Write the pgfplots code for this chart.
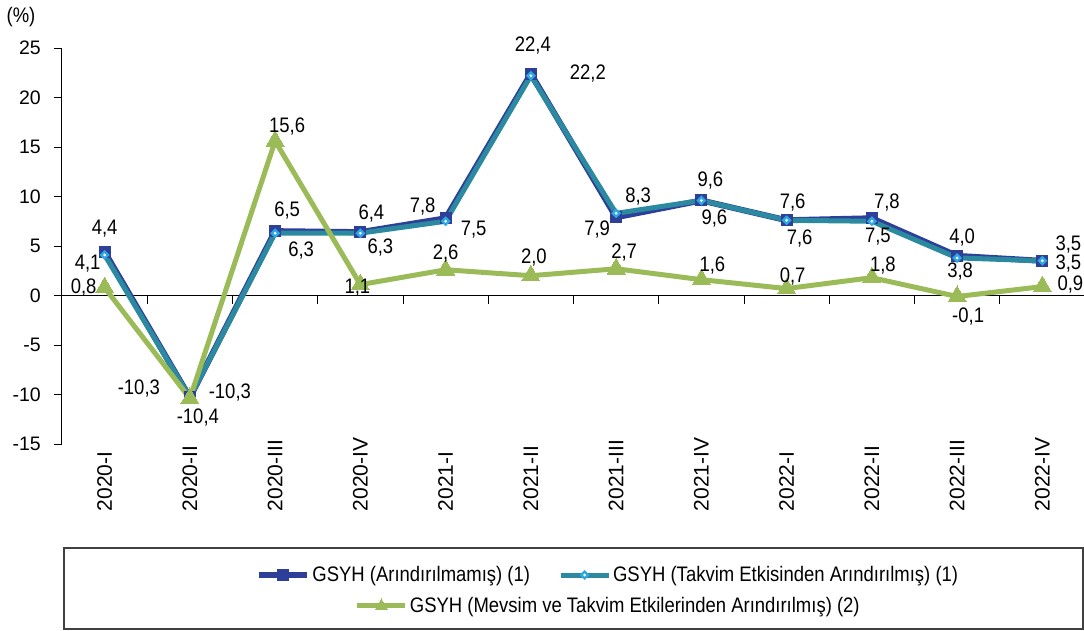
\documentclass[border=0pt]{standalone}
\usepackage{pgfplots}
\pgfplotsset{compat=1.18}
\usepackage{pgfplotstable}
\usepackage{fontspec}
\setmainfont{Liberation Sans}[FakeStretch=0.88]
\newfontfamily\wfont{Liberation Sans}

\definecolor{cblue}{HTML}{2E3F9A}
\definecolor{cteal}{HTML}{2B8AA0}
\definecolor{ccyan}{HTML}{2EA8E0}
\definecolor{cgreen}{HTML}{9BBB59}

\pgfdeclareplotmark{cdiam}{%
  \pgfsetfillcolor{ccyan}%
  \pgfpathmoveto{\pgfqpoint{0pt}{\pgfplotmarksize}}%
  \pgfpathlineto{\pgfqpoint{\pgfplotmarksize}{0pt}}%
  \pgfpathlineto{\pgfqpoint{0pt}{-\pgfplotmarksize}}%
  \pgfpathlineto{\pgfqpoint{-\pgfplotmarksize}{0pt}}%
  \pgfpathclose\pgfusepath{fill}%
  \pgfsetfillcolor{white}%
  \pgfpathcircle{\pgfpointorigin}{0.3\pgfplotmarksize}\pgfusepath{fill}}

\pgfplotstableread{
x y dx dy lab
0 4.4 0 23 4,4
1 -10.3 -51 9 -10,3
2 6.5 12 21 6,5
3 6.4 11 19 6,4
4 7.8 -23 12 7,8
5 22.4 2 28 22,4
6 7.9 -19 -12 7,9
7 9.6 9 20 9,6
8 7.6 6 18 7,6
9 7.8 15 16 7,8
10 4.0 5 18 4,0
11 3.5 26 16 3,5
}\tblblue

\pgfplotstableread{
x y dx dy lab
0 4.1 -17 -9 4,1
1 -10.3 40 5 -10,3
2 6.3 26 -17 6,3
3 6.3 20 -14 6,3
4 7.5 28 -8 7,5
5 22.2 57 2 22,2
6 8.3 22 17 8,3
7 9.6 13 -18 9,6
8 7.6 13 -18 7,6
9 7.5 6 -15 7,5
10 3.8 3 -14 3,8
11 3.5 26 -3 3,5
}\tblteal

\pgfplotstableread{
x y dx dy lab
0 0.8 -21 0 0,8
1 -10.4 8 -19 -10,4
2 15.6 12 15 15,6
3 1.1 -3 -3 1,1
4 2.6 0 16 2,6
5 2.0 3 18 2,0
6 2.7 8 16 2,7
7 1.6 11 14 1,6
8 0.7 6 12 0,7
9 1.8 11 12 1,8
10 -0.1 11 -20 -0,1
11 0.9 28 2 0,9
}\tblgreen

\pgfplotsset{
  lbl/.style={
    nodes near coords,
    point meta=explicit symbolic,
    visualization depends on={\thisrow{dx}\as\dx},
    visualization depends on={\thisrow{dy}\as\dy},
    every node near coord/.append style={anchor=center, xshift=\dx pt, yshift=\dy pt, text=black, inner sep=0pt},
  },
  legend image code/.code={%
    \draw[mark repeat=2,mark phase=2,#1] plot coordinates {(0pt,0pt) (24pt,0pt) (48pt,0pt)};},
}

\begin{document}
\fontsize{21}{24}\selectfont
\begin{tikzpicture}
\begin{axis}[
  scale only axis, width=1023pt, height=396pt,
  xmin=-0.5, xmax=11.5, ymin=-15, ymax=25,
  axis x line*=middle, axis y line*=left,
  axis line style={-, black, line width=1pt},
  ytick={-15,-10,...,25},
  xtick={0.5,1.5,...,10.5}, xticklabels={},
  tick align=outside, major tick length=8pt,
  tick style={black, line width=1pt},
  hide obscured x ticks=false, hide obscured y ticks=false,
  /pgf/number format/assume math mode=true,
  yticklabel style={xshift=-6pt, font=\wfont\fontsize{19.5}{22}\selectfont},
  extra x ticks={0,...,11},
  extra x tick labels={2020-I,2020-II,2020-III,2020-IV,2021-I,2021-II,2021-III,2021-IV,2022-I,2022-II,2022-III,2022-IV},
  extra x tick style={major tick length=0pt, tick style={draw=none},
    xticklabel style={rotate=90, anchor=west, font=\wfont\fontsize{21}{24}\selectfont}, xticklabel shift=223pt},
  clip=false,
  legend columns=2,
  legend style={draw=none, fill=none, at={(0.534,-0.331)}, anchor=center,
    /tikz/every even column/.append style={column sep=26pt},
    nodes={inner sep=2pt}},
]
\addplot[cblue, line width=6pt, line join=round, mark=square*, mark size=5.5pt, mark options={fill=cblue, draw=cblue, line width=0pt}, lbl] table[x=x, y=y, meta=lab] {\tblblue};
\addlegendentry{GSYH (Arındırılmamış) (1)}
\addplot[cteal, line width=5pt, line join=round, mark=cdiam, mark size=5pt, lbl] table[x=x, y=y, meta=lab] {\tblteal};
\addlegendentry{GSYH (Takvim Etkisinden Arındırılmış) (1)}
\addplot[cgreen, line width=5pt, line join=round, mark=triangle*, mark size=10.5pt, mark options={fill=cgreen, draw=cgreen, line width=0pt}, lbl, forget plot] table[x=x, y=y, meta=lab] {\tblgreen};
\end{axis}
\begin{axis}[
  scale only axis, width=1023pt, height=396pt,
  xmin=0, xmax=1, ymin=0, ymax=1, hide axis,
  legend style={draw=none, fill=none, at={(0.534,-0.409)}, anchor=center, nodes={inner sep=2pt}},
]
\addlegendimage{cgreen, line width=5pt, mark=triangle*, mark size=7pt, mark options={fill=cgreen, draw=cgreen, line width=0pt}}
\addlegendentry{GSYH (Mevsim ve Takvim Etkilerinden Arındırılmış) (2)}
\end{axis}
\node at (-41pt,427pt) {(\%)};
\draw[black!75, line width=1.5pt] (2pt,-104pt) rectangle (1021pt,-185pt);
\pgfresetboundingbox
\path[use as bounding box] (-62pt,-186pt) rectangle (1022pt,444pt);
\end{tikzpicture}
\end{document}
